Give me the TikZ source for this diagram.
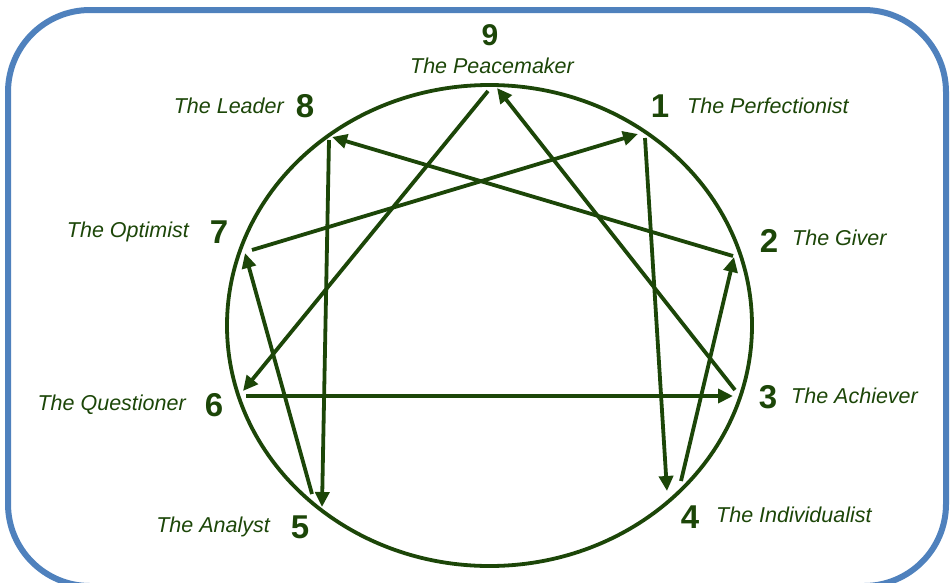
\documentclass[tikz,border=0pt]{standalone}
\usepackage{fontspec}
\setmainfont{Liberation Sans}
\usetikzlibrary{arrows.meta,shapes.geometric}
\definecolor{eg}{RGB}{28,70,8}
\definecolor{frameblue}{RGB}{79,129,189}
\begin{document}
\begin{tikzpicture}[x=1pt,y=-1pt,
  conn/.style={draw=eg, line width=3.8pt, -{Triangle[length=15pt,width=14pt]}},
  num/.style={font=\fontsize{33}{33}\selectfont\bfseries, text=eg, inner sep=0pt},
  lbl/.style={font=\fontsize{21.5}{21.5}\selectfont\itshape, text=eg, inner sep=0pt}]
\useasboundingbox (0,0) rectangle (950,582);
\draw[frameblue, line width=6pt, rounded corners=82pt] (8,10) rectangle (946,586);
\node[draw=eg, line width=3.8pt, ellipse, minimum width=525pt, minimum height=481pt, inner sep=0pt] (circ) at (489.5,325.5) {};
% labels
\node[num, font=\fontsize{30}{30}\selectfont\bfseries] (n9) at (490,35) {9};
\node[lbl, anchor=base] (l9) at (492,73) {The Peacemaker};
\node[num] (n1) at (660,106) {1};
\node[lbl, anchor=base west] (l1) at (687,113) {The Perfectionist};
\node[num] (n8) at (305,106) {8};
\node[lbl, anchor=base east] (l8) at (284,113) {The Leader};
\node[num] (n7) at (219,232) {7};
\node[lbl, anchor=base east] (l7) at (189,237) {The Optimist};
\node[num] (n2) at (769,241) {2};
\node[lbl, anchor=base west] (l2) at (792,245) {The Giver};
\node[num] (n6) at (214,405) {6};
\node[lbl, anchor=base east] (l6) at (186,410) {The Questioner};
\node[num] (n3) at (768,397) {3};
\node[lbl, anchor=base west] (l3) at (791,403) {The Achiever};
\node[num] (n5) at (300,527) {5};
\node[lbl, anchor=base east] (l5) at (270,532) {The Analyst};
\node[num] (n4) at (690,517) {4};
\node[lbl, anchor=base west] (l4) at (716,522) {The Individualist};
% arrow end points
\coordinate (s96) at (488,91);  \coordinate (t96) at (243,391);
\coordinate (s39) at (735,390); \coordinate (t39) at (497,88);
\coordinate (s14) at (645,138); \coordinate (t14) at (667,491);
\coordinate (s42) at (681,481); \coordinate (t42) at (734,257);
\coordinate (s28) at (733,256); \coordinate (t28) at (332,137);
\coordinate (s85) at (329,140); \coordinate (t85) at (322,507);
\coordinate (s57) at (312,494); \coordinate (t57) at (245,253);
\coordinate (s71) at (252,250); \coordinate (t71) at (638,134);
\coordinate (s63) at (246,396); \coordinate (t63) at (733,396);
\draw[conn] (s96) -- (t96);
\draw[conn] (s39) -- (t39);
\draw[conn] (s14) -- (t14);
\draw[conn] (s42) -- (t42);
\draw[conn] (s28) -- (t28);
\draw[conn] (s85) -- (t85);
\draw[conn] (s57) -- (t57);
\draw[conn] (s71) -- (t71);
\draw[conn] (s63) -- (t63);
\end{tikzpicture}
\end{document}
